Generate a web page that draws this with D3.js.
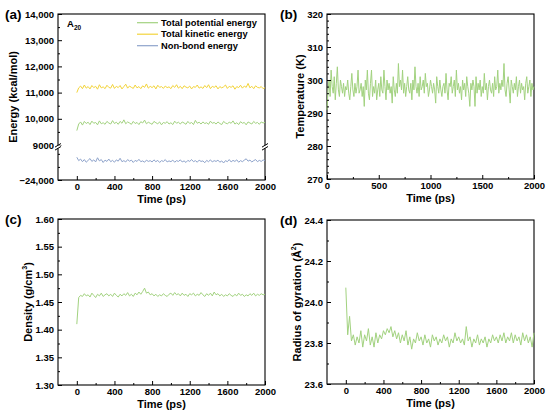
<!DOCTYPE html>
<html><head><meta charset="utf-8">
<script src="https://cdn.jsdelivr.net/npm/d3@7"></script>
<style>body{margin:0;background:#fff}svg{display:block}text{font-family:"Liberation Sans",Arial,sans-serif;font-weight:bold;fill:#000}</style>
</head><body><svg id="c" width="550" height="416"></svg>
<script>
// ---- data ----
const energyLegend = ["Total potential energy","Total kinetic energy","Non-bond energy"];
const kinetic = [11000,11180,11250,11150,11290,11170,11230,11140,11270,11190,
11240,11130,11300,11180,11220,11150,11280,11200,11170,11310,
11160,11240,11190,11270,11140,11230,11320,11170,11250,11200,
11160,11290,11180,11230,11150,11260,11200,11330,11170,11240,
11190,11260,11140,11280,11200,11230,11160,11250,11190,11220,
11150,11270,11200,11300,11170,11240,11150,11260,11210,11180,
11250,11140,11230,11200,11290,11170,11220,11160,11270,11190,
11300,11150,11240,11200,11260,11140,11230,11180,11220,11290,
11160,11240,11200,11260,11130,11230,11190,11280,11170,11250,
11200,11350,11180,11240,11150,11260,11200,11180,11230,11150,11190];
const potential = [9550,9800,9880,9760,9900,9820,9870,9780,9910,9830,
9860,9770,9920,9810,9850,9790,9900,9840,9800,9930,
9820,9870,9790,9900,9830,9960,9810,9880,9840,9790,
9900,9820,9860,9780,9890,9840,9950,9810,9870,9830,
9790,9900,9850,9810,9880,9770,9860,9830,9890,9800,
9850,9780,9910,9830,9870,9800,9880,9840,9790,9900,
9820,9860,9780,9940,9830,9870,9800,9880,9820,9850,
9790,9910,9830,9860,9800,9880,9820,9780,9900,9840,
9810,9870,9830,9920,9800,9850,9780,9890,9830,9860,
9770,9880,9840,9800,9900,9830,9860,9790,9880,9840,9870];
const nonbond = [-23130,-23260,-23200,-23300,-23220,-23320,-23250,-23180,-23290,-23230,
-23310,-23150,-23270,-23220,-23330,-23240,-23290,-23200,-23300,-23250,
-23320,-23230,-23280,-23170,-23300,-23260,-23310,-23220,-23280,-23240,
-23330,-23250,-23290,-23210,-23300,-23270,-23320,-23240,-23290,-23260,
-23310,-23230,-23300,-23250,-23330,-23260,-23290,-23220,-23310,-23270,
-23300,-23240,-23320,-23260,-23290,-23230,-23310,-23270,-23330,-23250,
-23290,-23220,-23300,-23260,-23320,-23240,-23290,-23270,-23340,-23250,
-23300,-23230,-23310,-23260,-23290,-23240,-23320,-23270,-23350,-23260,
-23300,-23220,-23310,-23250,-23290,-23230,-23320,-23260,-23300,-23240,
-23190,-23280,-23240,-23310,-23260,-23220,-23300,-23250,-23290,-23230,-23270];
const temperature = [291,297,300,295,303,298,296,301,294,299,304,297,295,300,298,296,299,295,298,297,
300,296,294,298,302,297,295,299,296,298,303,296,297,299,295,298,292,300,297,303,
296,294,299,303,295,298,296,300,294,297,299,295,301,297,296,303,298,294,300,297,
299,296,298,293,301,297,295,299,296,305,298,300,297,303,296,299,295,298,301,297,
296,299,294,300,297,304,298,296,299,295,301,297,298,300,296,302,298,299,295,297,
300,298,296,299,297,293,301,298,296,300,297,295,298,299,296,302,297,294,299,298,
301,296,298,300,295,303,297,299,296,298,294,300,297,299,295,301,298,296,292,299,
297,300,298,292,301,296,299,297,300,295,298,296,302,297,299,294,298,300,297,296,
299,295,301,297,298,303,296,299,297,300,298,305,297,295,299,301,297,293,300,298,
296,299,297,301,295,298,300,296,299,297,298,294,299,301,296,298,300,295,299,297,298];
const density = [1.410,1.458,1.462,1.460,1.465,1.461,1.463,1.459,1.466,1.462,
1.458,1.464,1.461,1.466,1.460,1.463,1.465,1.461,1.464,1.460,
1.466,1.462,1.459,1.464,1.461,1.465,1.462,1.467,1.461,1.464,
1.460,1.466,1.463,1.468,1.464,1.469,1.475,1.466,1.468,1.463,
1.465,1.461,1.464,1.460,1.463,1.461,1.465,1.462,1.460,1.464,
1.466,1.462,1.467,1.463,1.465,1.461,1.466,1.462,1.464,1.460,
1.465,1.463,1.466,1.461,1.464,1.462,1.467,1.463,1.460,1.465,
1.462,1.466,1.461,1.468,1.463,1.465,1.461,1.464,1.460,1.463,
1.461,1.465,1.462,1.460,1.464,1.461,1.466,1.462,1.464,1.460,
1.463,1.461,1.465,1.462,1.466,1.461,1.464,1.462,1.465,1.463,1.464];
const gyration = [24.07,23.84,23.93,23.81,23.84,23.79,23.83,23.80,23.86,23.78,
23.84,23.81,23.87,23.79,23.83,23.78,23.85,23.80,23.84,23.82,
23.86,23.84,23.87,23.85,23.88,23.83,23.86,23.82,23.85,23.80,
23.84,23.81,23.86,23.79,23.83,23.77,23.82,23.80,23.85,23.81,
23.83,23.79,23.84,23.80,23.82,23.78,23.84,23.81,23.83,23.79,
23.82,23.80,23.84,23.81,23.83,23.78,23.82,23.80,23.85,23.81,
23.83,23.80,23.82,23.79,23.88,23.81,23.83,23.78,23.82,23.80,
23.84,23.79,23.82,23.80,23.83,23.78,23.82,23.80,23.84,23.81,
23.83,23.80,23.84,23.81,23.85,23.80,23.83,23.81,23.85,23.80,
23.84,23.81,23.83,23.79,23.85,23.81,23.84,23.80,23.83,23.78,23.85];
const timeEnd = 2000;
const timeTicksA = [0,400,800,1200,1600,2000];
const timeTicksB = [0,500,1000,1500,2000];
const energyTicksUpper = [9000,10000,11000,12000,13000,14000];
const energyTicksLower = [-24000];
const tempTicks = [270,280,290,300,310,320];
const densTicks = [1.30,1.35,1.40,1.45,1.50,1.55,1.60];
const rgTicks = [23.6,23.8,24.0,24.2,24.4];

// ---- drawing ----
const svg = d3.select("#c");
const GREEN = "#a2d27f", YELLOW = "#f3d43a", BLUE = "#8ea3cb";
const fmtK = d => Math.abs(d) >= 10000 ? d3.format(",")(d).replace("-","\u2212") : d3.format("d")(d);
const toPts = arr => arr.map((v,i)=>[i*timeEnd/(arr.length-1), v]);

function xAxis(g, x, ticks, minorStep, bottom){
  const minors = d3.range(ticks[0], ticks[ticks.length-1]+1e-9, minorStep).filter(v=>!ticks.includes(v));
  g.append("g").attr("transform",`translate(0,${bottom})`)
    .call(d3.axisBottom(x).tickValues(minors).tickSize(-2).tickFormat(""))
    .call(s=>{s.select(".domain").remove(); s.selectAll("line").attr("stroke","#000");});
  g.append("g").attr("transform",`translate(0,${bottom})`)
    .call(d3.axisBottom(x).tickValues(ticks).tickSize(-4).tickPadding(3.5).tickFormat(d3.format("d")))
    .call(s=>{s.select(".domain").remove(); s.selectAll("line").attr("stroke","#000");
      s.selectAll("text").attr("font-size","9.5px").attr("font-family",null).attr("fill","#000");});
}
function yAxis(g, y, ticks, minors, left, fmt){
  g.append("g").attr("transform",`translate(${left},0)`)
    .call(d3.axisLeft(y).tickValues(minors).tickSize(-2).tickFormat(""))
    .call(s=>{s.select(".domain").remove(); s.selectAll("line").attr("stroke","#000");});
  g.append("g").attr("transform",`translate(${left},0)`)
    .call(d3.axisLeft(y).tickValues(ticks).tickSize(-4).tickPadding(4).tickFormat(fmt))
    .call(s=>{s.select(".domain").remove(); s.selectAll("line").attr("stroke","#000");
      s.selectAll("text").attr("font-size","9.5px").attr("font-family",null).attr("fill","#000");});
}
function frame(b){
  svg.append("rect").attr("x",b.l).attr("y",b.t).attr("width",b.r-b.l).attr("height",b.b-b.t)
    .attr("fill","none").attr("stroke","#000").attr("stroke-width",1.1);
}
function line(x,y,arr,color){
  svg.append("path").datum(toPts(arr)).attr("fill","none").attr("stroke",color)
    .attr("stroke-width",1).attr("stroke-linejoin","round")
    .attr("d", d3.line().x(d=>x(d[0])).y(d=>y(d[1])));
}
function titles(b, label, lx, ly, ytitleX, ytitle){
  svg.append("text").attr("x",lx).attr("y",ly).attr("font-size","13.5px").text(label);
  svg.append("text").attr("x",(b.l+b.r)/2).attr("y",b.b+23).attr("text-anchor","middle")
    .attr("font-size","11px").text("Time (ps)");
  const t = svg.append("text").attr("transform",`translate(${ytitleX},${(b.t+b.b)/2}) rotate(-90)`)
    .attr("text-anchor","middle").attr("dominant-baseline","central").attr("font-size","11px");
  ytitle(t);
}

// Panel (a)
{
  const b = {l:58,r:265,t:14,b:180};
  const x = d3.scaleLinear([-200,timeEnd],[b.l,b.r]);
  const yU = d3.scaleLinear([9000,14000],[145,b.t]);
  const yL = d3.scaleLinear([-24000,-22800],[b.b,148.6]);
  frame(b);
  line(x,yU,potential,GREEN);
  line(x,yU,kinetic,YELLOW);
  line(x,yL,nonbond,BLUE);
  xAxis(svg,x,timeTicksA,200,b.b);
  yAxis(svg,yU,energyTicksUpper,d3.range(9500,14000,1000),b.l,fmtK);
  yAxis(svg,yL,energyTicksLower,[-23500,-23000],b.l,fmtK);
  // axis break
  [b.l,b.r].forEach(xx=>{
    svg.append("rect").attr("x",xx-4).attr("y",145.3).attr("width",8).attr("height",3).attr("fill","#fff");
    [145.3,148.3].forEach(yy=>svg.append("line").attr("x1",xx-3).attr("x2",xx+3)
      .attr("y1",yy+1.8).attr("y2",yy-1.8).attr("stroke","#000").attr("stroke-width",1));
  });
  titles(b,"(a)",5,19,13,t=>t.text("Energy (kcal/mol)"));
  const a = svg.append("text").attr("x",67).attr("y",27).attr("font-size","9.5px");
  a.append("tspan").text("A");
  a.append("tspan").attr("font-size","6.5px").attr("dy",2.5).text("20");
  const cols=[GREEN,YELLOW,BLUE];
  energyLegend.forEach((s,i)=>{
    const yy = 22.7 + i*11.5;
    svg.append("line").attr("x1",137).attr("x2",158).attr("y1",yy).attr("y2",yy)
      .attr("stroke",cols[i]).attr("stroke-width",1.2);
    svg.append("text").attr("x",161).attr("y",yy).attr("dominant-baseline","central")
      .attr("font-size","9.3px").text(s);
  });
}
// Panel (b)
{
  const b = {l:327,r:534,t:14,b:179};
  const x = d3.scaleLinear([0,timeEnd],[b.l,b.r]);
  const y = d3.scaleLinear([270,320],[b.b,b.t]);
  frame(b);
  line(x,y,temperature,GREEN);
  xAxis(svg,x,timeTicksB,250,b.b);
  yAxis(svg,y,tempTicks,d3.range(272,320,2).filter(v=>v%10),b.l,d3.format("d"));
  titles(b,"(b)",280,19,300,t=>t.text("Temperature (K)"));
}
// Panel (c)
{
  const b = {l:58,r:265,t:219,b:385};
  const x = d3.scaleLinear([-200,timeEnd],[b.l,b.r]);
  const y = d3.scaleLinear([1.30,1.60],[b.b,b.t]);
  frame(b);
  line(x,y,density,GREEN);
  xAxis(svg,x,timeTicksA,200,b.b);
  yAxis(svg,y,densTicks,d3.range(1.325,1.6,0.05),b.l,d3.format(".2f"));
  titles(b,"(c)",5,224,28,t=>{t.append("tspan").text("Density (g/cm");
    t.append("tspan").attr("font-size","7px").attr("dy",-4).text("3");
    t.append("tspan").attr("dy",4).text(")");});
}
// Panel (d)
{
  const b = {l:327,r:534,t:220,b:384};
  const x = d3.scaleLinear([-200,timeEnd],[b.l,b.r]);
  const y = d3.scaleLinear([23.6,24.4],[b.b,b.t]);
  frame(b);
  line(x,y,gyration,GREEN);
  xAxis(svg,x,timeTicksA,200,b.b);
  yAxis(svg,y,rgTicks,d3.range(23.7,24.4,0.2),b.l,d3.format(".1f"));
  titles(b,"(d)",280,225,297,t=>{t.append("tspan").text("Radius of gyration (\u00C5");
    t.append("tspan").attr("font-size","7px").attr("dy",-4).text("2");
    t.append("tspan").attr("dy",4).text(")");});
}
</script></body></html>
